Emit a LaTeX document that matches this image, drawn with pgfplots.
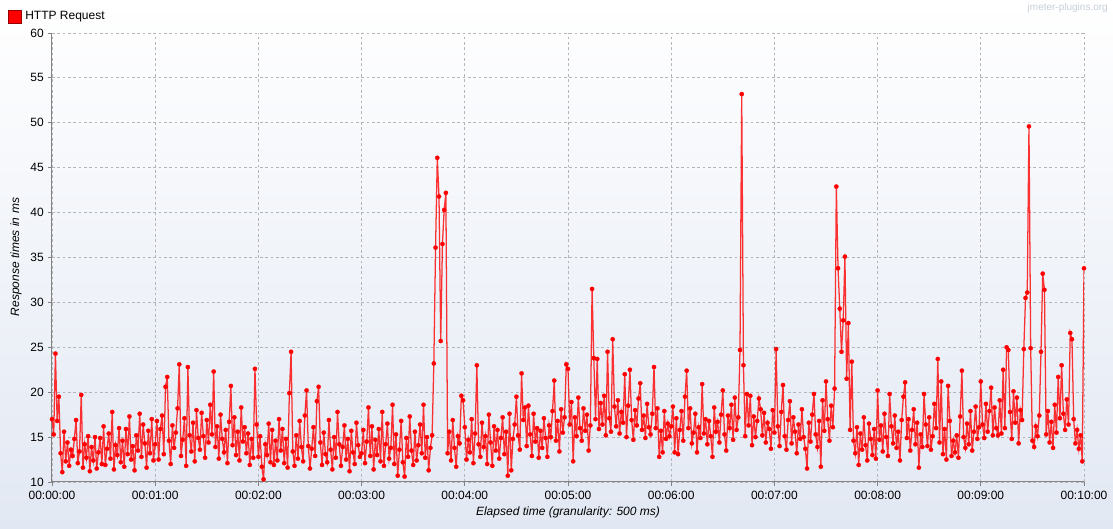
\documentclass[border=0pt]{standalone}
\usepackage{fontspec}
\setmainfont{Liberation Sans}
\usepackage{pgfplots}
\pgfplotsset{compat=1.18}
\definecolor{bgbot}{RGB}{226,232,243}
\definecolor{gridc}{RGB}{180,180,185}
\definecolor{axc}{RGB}{130,130,130}
\definecolor{wm}{RGB}{200,206,216}
\definecolor{lred}{RGB}{255,0,0}
\begin{document}
\begin{tikzpicture}[x=1pt,y=1pt]
\shade[top color=white, bottom color=bgbot] (0,0) rectangle (834.75,396);
\begin{axis}[
  at={(39pt,34.5pt)}, anchor=south west, scale only axis,
  width=774pt, height=336.75pt,
  xmin=0, xmax=600, ymin=10, ymax=60,
  axis x line*=bottom, axis y line*=left,
  axis line style={axc, line width=0.75pt},
  xtick={0,60,120,180,240,300,360,420,480,540,600},
  xticklabels={00:00:00,00:01:00,00:02:00,00:03:00,00:04:00,00:05:00,00:06:00,00:07:00,00:08:00,00:09:00,00:10:00},
  ytick={10,15,20,25,30,35,40,45,50,55,60},
  grid=major,
  major grid style={gridc, dash pattern=on 2pt off 2pt, line width=0.6pt},
  tick align=outside, major tick length=3pt, tick style={axc, line width=0.6pt},
  tick label style={font=\fontsize{9}{11}\selectfont, text=black},
  /pgf/number format/assume math mode=true,
  xticklabel style={inner sep=0pt, yshift=-4pt},
  yticklabel style={inner sep=0pt, xshift=-3pt},
]
\addplot[color=lred, line width=0.95pt, draw opacity=0.8, mark=*, mark size=1.6pt,
  mark options={draw opacity=1, fill opacity=1, fill=lred, draw=lred, line width=0.2pt}] coordinates {
(0,17) (1,15.3) (2,24.3) (3,16.8) (4,19.5) (5,13.2) (6,11.1) (7,15.6) (8,12.3) (9,14.4)
(10,11.8) (11,13.6) (12,12.9) (13,14.8) (14,16.9) (15,12.1) (16,13.4) (17,19.7) (18,11.6) (19,14.2)
(20,12.7) (21,15.1) (22,11.2) (23,13.9) (24,12.4) (25,15.0) (26,11.5) (27,13.3) (28,14.9) (29,12.0)
(30,16.2) (31,11.9) (32,13.7) (33,15.4) (34,12.6) (35,17.8) (36,11.4) (37,14.1) (38,13.0) (39,16.0)
(40,12.2) (41,14.6) (42,11.7) (43,15.9) (44,13.1) (45,17.3) (46,12.5) (47,14.0) (48,11.3) (49,15.2)
(50,13.5) (51,17.6) (52,12.8) (53,16.4) (54,14.3) (55,11.6) (56,15.7) (57,13.2) (58,17.0) (59,12.4)
(60,14.2) (61,16.8) (62,12.5) (63,15.9) (64,17.4) (65,13.1) (66,20.6) (67,21.7) (68,14.6) (69,12.0)
(70,16.3) (71,13.8) (72,15.5) (73,18.2) (74,23.1) (75,12.9) (76,14.7) (77,17.1) (78,11.8) (79,22.8)
(80,15.2) (81,13.4) (82,16.6) (83,12.3) (84,18.0) (85,14.9) (86,13.6) (87,17.7) (88,15.1) (89,12.7)
(90,16.9) (91,14.4) (92,18.6) (93,15.3) (94,22.3) (95,13.9) (96,16.2) (97,12.6) (98,17.5) (99,14.8)
(100,13.3) (101,15.8) (102,12.1) (103,16.7) (104,20.7) (105,14.1) (106,17.2) (107,13.0) (108,15.6) (109,12.4)
(110,18.3) (111,14.5) (112,16.1) (113,13.2) (114,15.4) (115,11.9) (116,14.8) (117,12.7) (118,22.6) (119,16.4)
(120,12.8) (121,15.1) (122,11.7) (123,10.3) (124,14.2) (125,13.0) (126,16.5) (127,12.2) (128,15.8) (129,11.9)
(130,14.6) (131,12.4) (132,17.0) (133,13.5) (134,15.9) (135,12.1) (136,14.8) (137,11.6) (138,19.9) (139,24.5)
(140,13.4) (141,11.8) (142,15.2) (143,12.6) (144,16.8) (145,13.9) (146,12.3) (147,17.4) (148,20.2) (149,14.0)
(150,11.5) (151,13.7) (152,16.1) (153,12.9) (154,19.0) (155,20.6) (156,14.4) (157,11.9) (158,15.5) (159,13.1)
(160,12.2) (161,16.9) (162,13.6) (163,11.4) (164,15.0) (165,12.7) (166,17.8) (167,14.2) (168,11.8) (169,13.9)
(170,16.3) (171,12.5) (172,14.8) (173,11.2) (174,15.7) (175,13.3) (176,12.0) (177,16.6) (178,14.1) (179,12.8)
(180,13.2) (181,15.8) (182,12.1) (183,14.5) (184,18.3) (185,12.9) (186,16.2) (187,11.4) (188,14.7) (189,13.0)
(190,15.9) (191,12.3) (192,17.8) (193,11.8) (194,14.2) (195,16.5) (196,12.6) (197,13.8) (198,18.6) (199,12.0)
(200,15.3) (201,10.7) (202,13.6) (203,16.8) (204,12.2) (205,10.6) (206,14.9) (207,12.8) (208,17.3) (209,13.5)
(210,11.9) (211,15.6) (212,12.4) (213,14.1) (214,16.4) (215,13.2) (216,18.6) (217,12.7) (218,15.0) (219,11.3)
(220,13.8) (221,15.2) (222,23.2) (223,36.1) (224,46.1) (225,41.8) (226,25.7) (227,36.5) (228,40.3) (229,42.2)
(230,13.2) (231,15.6) (232,12.4) (233,16.9) (234,13.8) (235,11.7) (236,15.1) (237,14.3) (238,19.6) (239,19.1)
(240,16.1) (241,12.5) (242,14.7) (243,13.3) (244,17.0) (245,12.1) (246,15.4) (247,23.0) (248,14.2) (249,12.8)
(250,16.6) (251,13.9) (252,15.1) (253,12.0) (254,17.5) (255,14.4) (256,11.8) (257,16.2) (258,13.5) (259,15.8)
(260,12.6) (261,14.9) (262,17.2) (263,13.1) (264,15.6) (265,10.7) (266,17.6) (267,11.3) (268,14.8) (269,16.4)
(270,19.5) (271,15.2) (272,13.6) (273,22.1) (274,16.9) (275,18.3) (276,14.0) (277,18.5) (278,15.3) (279,12.9)
(280,17.6) (281,14.5) (282,16.0) (283,12.7) (284,15.7) (285,13.8) (286,17.1) (287,14.9) (288,12.8) (289,16.3)
(290,15.0) (291,17.9) (292,21.3) (293,14.6) (294,16.8) (295,13.4) (296,18.1) (297,15.5) (298,17.2) (299,23.1)
(300,22.6) (301,16.4) (302,18.9) (303,12.3) (304,17.2) (305,15.1) (306,19.4) (307,16.0) (308,14.6) (309,18.2)
(310,15.7) (311,17.5) (312,13.5) (313,16.3) (314,31.5) (315,23.8) (316,17.0) (317,23.7) (318,15.9) (319,18.8)
(320,16.4) (321,19.6) (322,15.2) (323,24.5) (324,17.1) (325,15.6) (326,25.9) (327,18.4) (328,16.2) (329,19.1)
(330,15.4) (331,17.8) (332,16.6) (333,22.0) (334,15.0) (335,18.5) (336,22.5) (337,16.9) (338,14.7) (339,18.0)
(340,16.3) (341,19.3) (342,21.0) (343,15.8) (344,17.4) (345,14.9) (346,18.7) (347,16.1) (348,15.3) (349,17.6)
(350,22.8) (351,16.0) (352,18.2) (353,12.8) (354,15.7) (355,13.3) (356,17.9) (357,14.8) (358,16.5) (359,15.1)
(360,16.2) (361,18.4) (362,13.3) (363,17.1) (364,13.1) (365,15.8) (366,17.9) (367,14.6) (368,19.5) (369,22.4)
(370,16.0) (371,18.2) (372,14.3) (373,15.5) (374,17.6) (375,13.3) (376,16.1) (377,14.9) (378,20.9) (379,15.4)
(380,17.0) (381,14.2) (382,16.8) (383,15.1) (384,12.8) (385,18.3) (386,15.6) (387,16.7) (388,14.4) (389,17.5)
(390,20.2) (391,15.3) (392,13.5) (393,17.4) (394,16.0) (395,18.6) (396,14.7) (397,19.4) (398,15.8) (399,17.2)
(400,24.7) (401,53.2) (402,23.0) (403,15.1) (404,19.8) (405,16.3) (406,19.6) (407,14.1) (408,17.3) (409,15.0)
(410,16.8) (411,19.3) (412,18.1) (413,15.2) (414,17.7) (415,14.4) (416,16.6) (417,15.9) (418,13.7) (419,18.0)
(420,15.5) (421,24.8) (422,16.2) (423,14.0) (424,17.8) (425,20.8) (426,15.1) (427,13.6) (428,16.9) (429,19.0)
(430,14.3) (431,17.2) (432,15.6) (433,13.2) (434,16.4) (435,14.8) (436,18.1) (437,15.0) (438,13.7) (439,11.5)
(440,16.6) (441,14.5) (442,17.5) (443,19.8) (444,15.3) (445,13.9) (446,16.8) (447,11.7) (448,19.1) (449,15.7)
(450,21.2) (451,17.0) (452,14.6) (453,18.5) (454,16.1) (455,20.4) (456,42.9) (457,33.8) (458,29.3) (459,24.5)
(460,28.0) (461,35.1) (462,21.5) (463,27.7) (464,15.8) (465,23.4) (466,14.6) (467,13.2) (468,16.1) (469,11.9)
(470,15.4) (471,13.6) (472,17.2) (473,14.1) (474,12.4) (475,16.5) (476,14.8) (477,13.0) (478,15.9) (479,12.6)
(480,20.2) (481,14.7) (482,16.3) (483,13.4) (484,17.6) (485,15.0) (486,12.9) (487,19.8) (488,16.2) (489,14.3)
(490,17.4) (491,13.8) (492,15.6) (493,12.4) (494,16.9) (495,19.5) (496,21.1) (497,14.9) (498,17.0) (499,13.5)
(500,15.8) (501,18.1) (502,14.2) (503,16.6) (504,11.6) (505,15.3) (506,13.9) (507,19.8) (508,16.4) (509,14.0)
(510,17.2) (511,13.6) (512,15.1) (513,18.7) (514,16.0) (515,23.7) (516,14.4) (517,21.2) (518,13.1) (519,15.9)
(520,12.5) (521,20.7) (522,16.8) (523,12.9) (524,14.6) (525,13.3) (526,15.2) (527,12.7) (528,17.3) (529,22.4)
(530,15.0) (531,13.8) (532,16.5) (533,14.2) (534,17.9) (535,13.5) (536,15.6) (537,18.4) (538,14.8) (539,16.1)
(540,21.2) (541,16.4) (542,14.9) (543,18.7) (544,15.6) (545,17.9) (546,20.5) (547,15.2) (548,18.3) (549,16.0)
(550,15.2) (551,19.1) (552,15.4) (553,22.5) (554,16.0) (555,25.0) (556,24.7) (557,17.8) (558,14.8) (559,20.1)
(560,16.6) (561,19.4) (562,14.3) (563,18.0) (564,16.9) (565,24.8) (566,30.5) (567,31.1) (568,49.6) (569,24.9)
(570,14.6) (571,13.9) (572,16.2) (573,15.1) (574,17.4) (575,24.5) (576,33.2) (577,31.4) (578,15.3) (579,17.9)
(580,14.4) (581,16.7) (582,13.8) (583,18.6) (584,15.5) (585,21.7) (586,17.1) (587,23.0) (588,17.6) (589,15.8)
(590,19.2) (591,16.4) (592,26.6) (593,25.9) (594,17.0) (595,14.3) (596,15.8) (597,13.7) (598,15.2) (599,12.3)
(600,33.8)
};
\end{axis}
\draw[fill=lred, draw={rgb,255:red,150;green,0;blue,0}, line width=0.5pt] (6,378.75) rectangle (15.75,388.5);
\node[anchor=west, inner sep=0pt, font=\fontsize{9}{11}\selectfont] at (18.75,383.25) {HTTP Request};
\node[anchor=east, inner sep=0pt, text=wm, font=\fontsize{7.5}{9}\selectfont] at (831,390) {jmeter-plugins.org};
\node[rotate=90, inner sep=0pt, font=\itshape\fontsize{9}{11}\selectfont] at (12,203.25) {Response times in ms};
\node[inner sep=0pt, font=\itshape\fontsize{9}{11}\selectfont] at (426,12) {Elapsed time (granularity: 500 ms)};
\pgfresetboundingbox
\useasboundingbox (0,0) rectangle (834.75,396);
\end{tikzpicture}
\end{document}
